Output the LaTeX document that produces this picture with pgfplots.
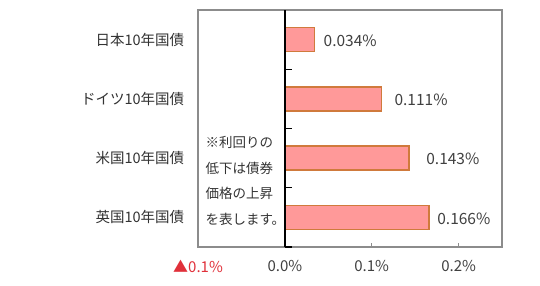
\documentclass[border=0pt]{standalone}
\usepackage{fontspec}
\setmainfont{Noto Sans CJK JP}
\usepackage{pgfplots}
\usepackage{pgfplotstable}
\pgfplotsset{compat=1.18}
\definecolor{barfill}{HTML}{FF9999}
\definecolor{baredge}{HTML}{D07A3C}
\definecolor{txt}{HTML}{404040}
\definecolor{frame}{HTML}{8C8C8C}
\definecolor{neg}{HTML}{E0303A}
\pgfplotstableread{
y x dx
0 0.166 3
1 0.143 12
2 0.111 8
3 0.034 4
}\bonds
\begin{document}
\begin{tikzpicture}
\fontsize{14bp}{17bp}\selectfont
\begin{axis}[
  at={(198bp,39bp)}, anchor=south west,
  scale only axis, width=304bp, height=237bp,
  xbar, bar width=24bp,
  xmin=-0.1, xmax=0.25, ymin=-0.5, ymax=3.5,
  axis line style={frame, line width=1.1pt},
  xtick={-0.1,0,0.1,0.2},
  xticklabels={{\color{neg}▲0.1\%},0.0\%,0.1\%,0.2\%},
  xtick pos=bottom, tick align=inside,
  major tick length=4bp,
  x tick style={frame, line width=0.9pt},
  xticklabel style={text=txt, font=\fontsize{15bp}{18bp}\selectfont, yshift=-8bp},
  ytick={0,1,2,3},
  yticklabels={英国10年国債,米国10年国債,ドイツ10年国債,日本10年国債},
  y tick style={draw=none},
  yticklabel style={text=black!80, font=\fontsize{14.5bp}{17bp}\selectfont, xshift=-9bp},
  visualization depends on={\thisrow{dx} \as \myshift},
  nodes near coords={\pgfmathprintnumber[fixed,precision=3,fixed zerofill,assume math mode=true]{\pgfplotspointmeta}\%},
  point meta=x,
  nodes near coords style={text=txt, font=\fontsize{15.5bp}{18bp}\selectfont, anchor=west, xshift=\myshift bp, yshift=-1bp},
  clip=false,
]
\addplot[fill=barfill, draw=baredge, line width=1.3pt] table[x=x,y=y] {\bonds};
\draw[black, line width=1.5pt] (axis cs:0,-0.5) -- (axis cs:0,3.5);
\pgfplotsinvokeforeach{-0.5,0.5,1.5,2.5}{
  \draw[black, line width=1.2pt] (axis cs:0,#1) -- ([xshift=7bp]axis cs:0,#1);
}
\node[anchor=north west, align=left, text=black!80, inner sep=0pt,
  font=\fontsize{13.5bp}{25.5bp}\selectfont]
  at (axis cs:-0.0915,1.37) {※利回りの\\低下は債券\\価格の上昇\\を表します。};
\end{axis}
\pgfresetboundingbox
\path[use as bounding box] (0,0) rectangle (540bp,286bp);
\end{tikzpicture}
\end{document}
